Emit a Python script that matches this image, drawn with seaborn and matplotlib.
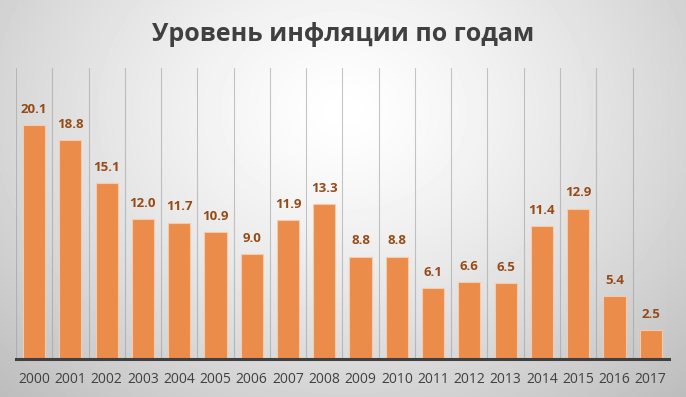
import matplotlib.pyplot as plt
import numpy as np
import pandas as pd
import seaborn as sns

years = ["2000", "2001", "2002", "2003", "2004", "2005", "2006", "2007", "2008",
         "2009", "2010", "2011", "2012", "2013", "2014", "2015", "2016", "2017"]
inflation = [20.1, 18.8, 15.1, 12.0, 11.7, 10.9, 9.0, 11.9, 13.3,
             8.8, 8.8, 6.1, 6.6, 6.5, 11.4, 12.9, 5.4, 2.5]
title = "Уровень инфляции по годам"

df = pd.DataFrame({"year": years, "value": inflation})

sns.set_style("white")
plt.rcParams["font.family"] = ["Open Sans", "DejaVu Sans"]

fig = plt.figure(figsize=(6.86, 3.97), dpi=100)

# radial gradient background
bg = fig.add_axes([0, 0, 1, 1], zorder=0)
yy, xx = np.mgrid[0:397, 0:686]
r = np.sqrt(((xx - 343) / 520) ** 2 + ((yy - 110) / 420) ** 2)
shade = 1.0 - 0.28 * np.clip(r, 0, 1) ** 1.3
bg.imshow(shade, cmap="gray", vmin=0, vmax=1, aspect="auto", extent=[0, 1, 0, 1])
bg.axis("off")

ax = fig.add_axes([0.0233, 0.0957, 0.9517, 0.7333], zorder=1)
ax.patch.set_alpha(0)
sns.barplot(data=df, x="year", y="value", color="#EB8C4B", width=0.61,
            edgecolor="#F7CBAA", linewidth=0.8, saturation=1, ax=ax)

for i, v in enumerate(inflation):
    ax.text(i, v + 0.8, f"{v:.1f}", ha="center", va="bottom",
            fontsize=9.5, fontweight="bold", color="#964A15")

ax.set_xlim(-0.5, len(years) - 0.5)
ax.set_ylim(0, 25)
ax.set_xticks(np.arange(-0.5, len(years)), minor=True)
ax.grid(which="minor", axis="x", color="#9a9a9a", linewidth=0.8, alpha=0.55)
ax.set_axisbelow(True)
ax.tick_params(which="both", length=0)
ax.tick_params(axis="x", labelsize=10, colors="#404040", pad=9)
ax.set_yticks([])
ax.set_xlabel("")
ax.set_ylabel("")
for s in ["top", "left", "right"]:
    ax.spines[s].set_visible(False)
ax.spines["bottom"].set_color("#404040")
ax.spines["bottom"].set_linewidth(2.2)

fig.text(0.5, 0.913, title, ha="center", va="center", fontsize=18,
         fontweight="bold", color="#404040")

fig.savefig("out.png", dpi=100)
